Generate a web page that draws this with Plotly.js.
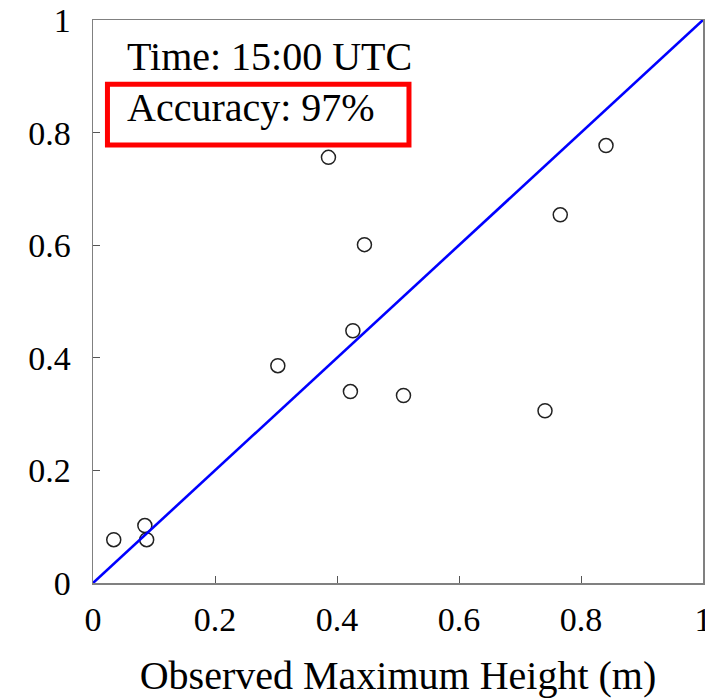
<!DOCTYPE html>
<html>
<head>
<meta charset="utf-8">
<script src="https://cdn.plot.ly/plotly-3.0.1.min.js"></script>
<style>html,body{margin:0;padding:0;background:#fff;}#chart{width:705px;height:698px;}</style>
</head>
<body>
<div id="chart"></div>
<script>
// Observed vs. predicted maximum height (m)
const observed = [0.034, 0.085, 0.088, 0.303, 0.386, 0.422, 0.426, 0.445, 0.509, 0.741, 0.766, 0.841];
const predicted = [0.077, 0.102, 0.077, 0.386, 0.756, 0.340, 0.448, 0.601, 0.333, 0.306, 0.654, 0.777];
const refLineX = [0, 1];
const refLineY = [0, 1];
const tickVals = [0, 0.2, 0.4, 0.6, 0.8, 1];
const tickText = ['0', '0.2', '0.4', '0.6', '0.8', '1'];
const xTitle = 'Observed Maximum Height (m)';
const timeLabel = 'Time: 15:00 UTC';
const accuracyLabel = 'Accuracy: 97%';

const font = '"Liberation Serif", "Times New Roman", serif';

const traces = [
  {
    x: observed, y: predicted, type: 'scatter', mode: 'markers',
    marker: {symbol: 'circle-open', size: 14, color: '#222222', line: {width: 1.5, color: '#222222'}},
    hoverinfo: 'x+y', showlegend: false
  },
  {
    x: refLineX, y: refLineY, type: 'scatter', mode: 'lines',
    line: {color: '#0000ff', width: 2.6}, showlegend: false, hoverinfo: 'skip'
  }
];

const axisCommon = {
  range: [0, 1], tickvals: tickVals, ticktext: tickText,
  ticks: 'inside', ticklen: 7, tickwidth: 1, tickcolor: '#555555',
  showline: true, linecolor: '#808080', linewidth: 1.5, mirror: true,
  showgrid: false, zeroline: false, ticklabeloverflow: 'allow',
  tickfont: {family: font, size: 34, color: '#000'}
};

const layout = {
  width: 705, height: 698,
  margin: {l: 93, r: 2, t: 20, b: 115},
  paper_bgcolor: '#fff', plot_bgcolor: '#fff',
  font: {family: font, color: '#000'},
  xaxis: Object.assign({}, axisCommon, {
    ticklabelstandoff: 6,
    title: {text: xTitle, font: {family: font, size: 40, color: '#000'}, standoff: 26}
  }),
  yaxis: Object.assign({}, axisCommon, {ticklabelstandoff: 14}),
  shapes: [{
    type: 'rect', xref: 'paper', yref: 'paper',
    x0: 0.0237, x1: 0.518, y0: 0.778, y1: 0.886,
    line: {color: '#ff0000', width: 5}, fillcolor: 'rgba(0,0,0,0)'
  }],
  annotations: [
    {xref: 'paper', yref: 'paper', x: 0.052, y: 0.9345, xanchor: 'left', yanchor: 'middle',
     text: timeLabel, showarrow: false, font: {family: font, size: 40, color: '#000'}},
    {xref: 'paper', yref: 'paper', x: 0.052, y: 0.845, xanchor: 'left', yanchor: 'middle',
     text: accuracyLabel, showarrow: false, font: {family: font, size: 40, color: '#000'}}
  ]
};

Plotly.newPlot('chart', traces, layout, {displayModeBar: false, staticPlot: true});
</script>
</body>
</html>
